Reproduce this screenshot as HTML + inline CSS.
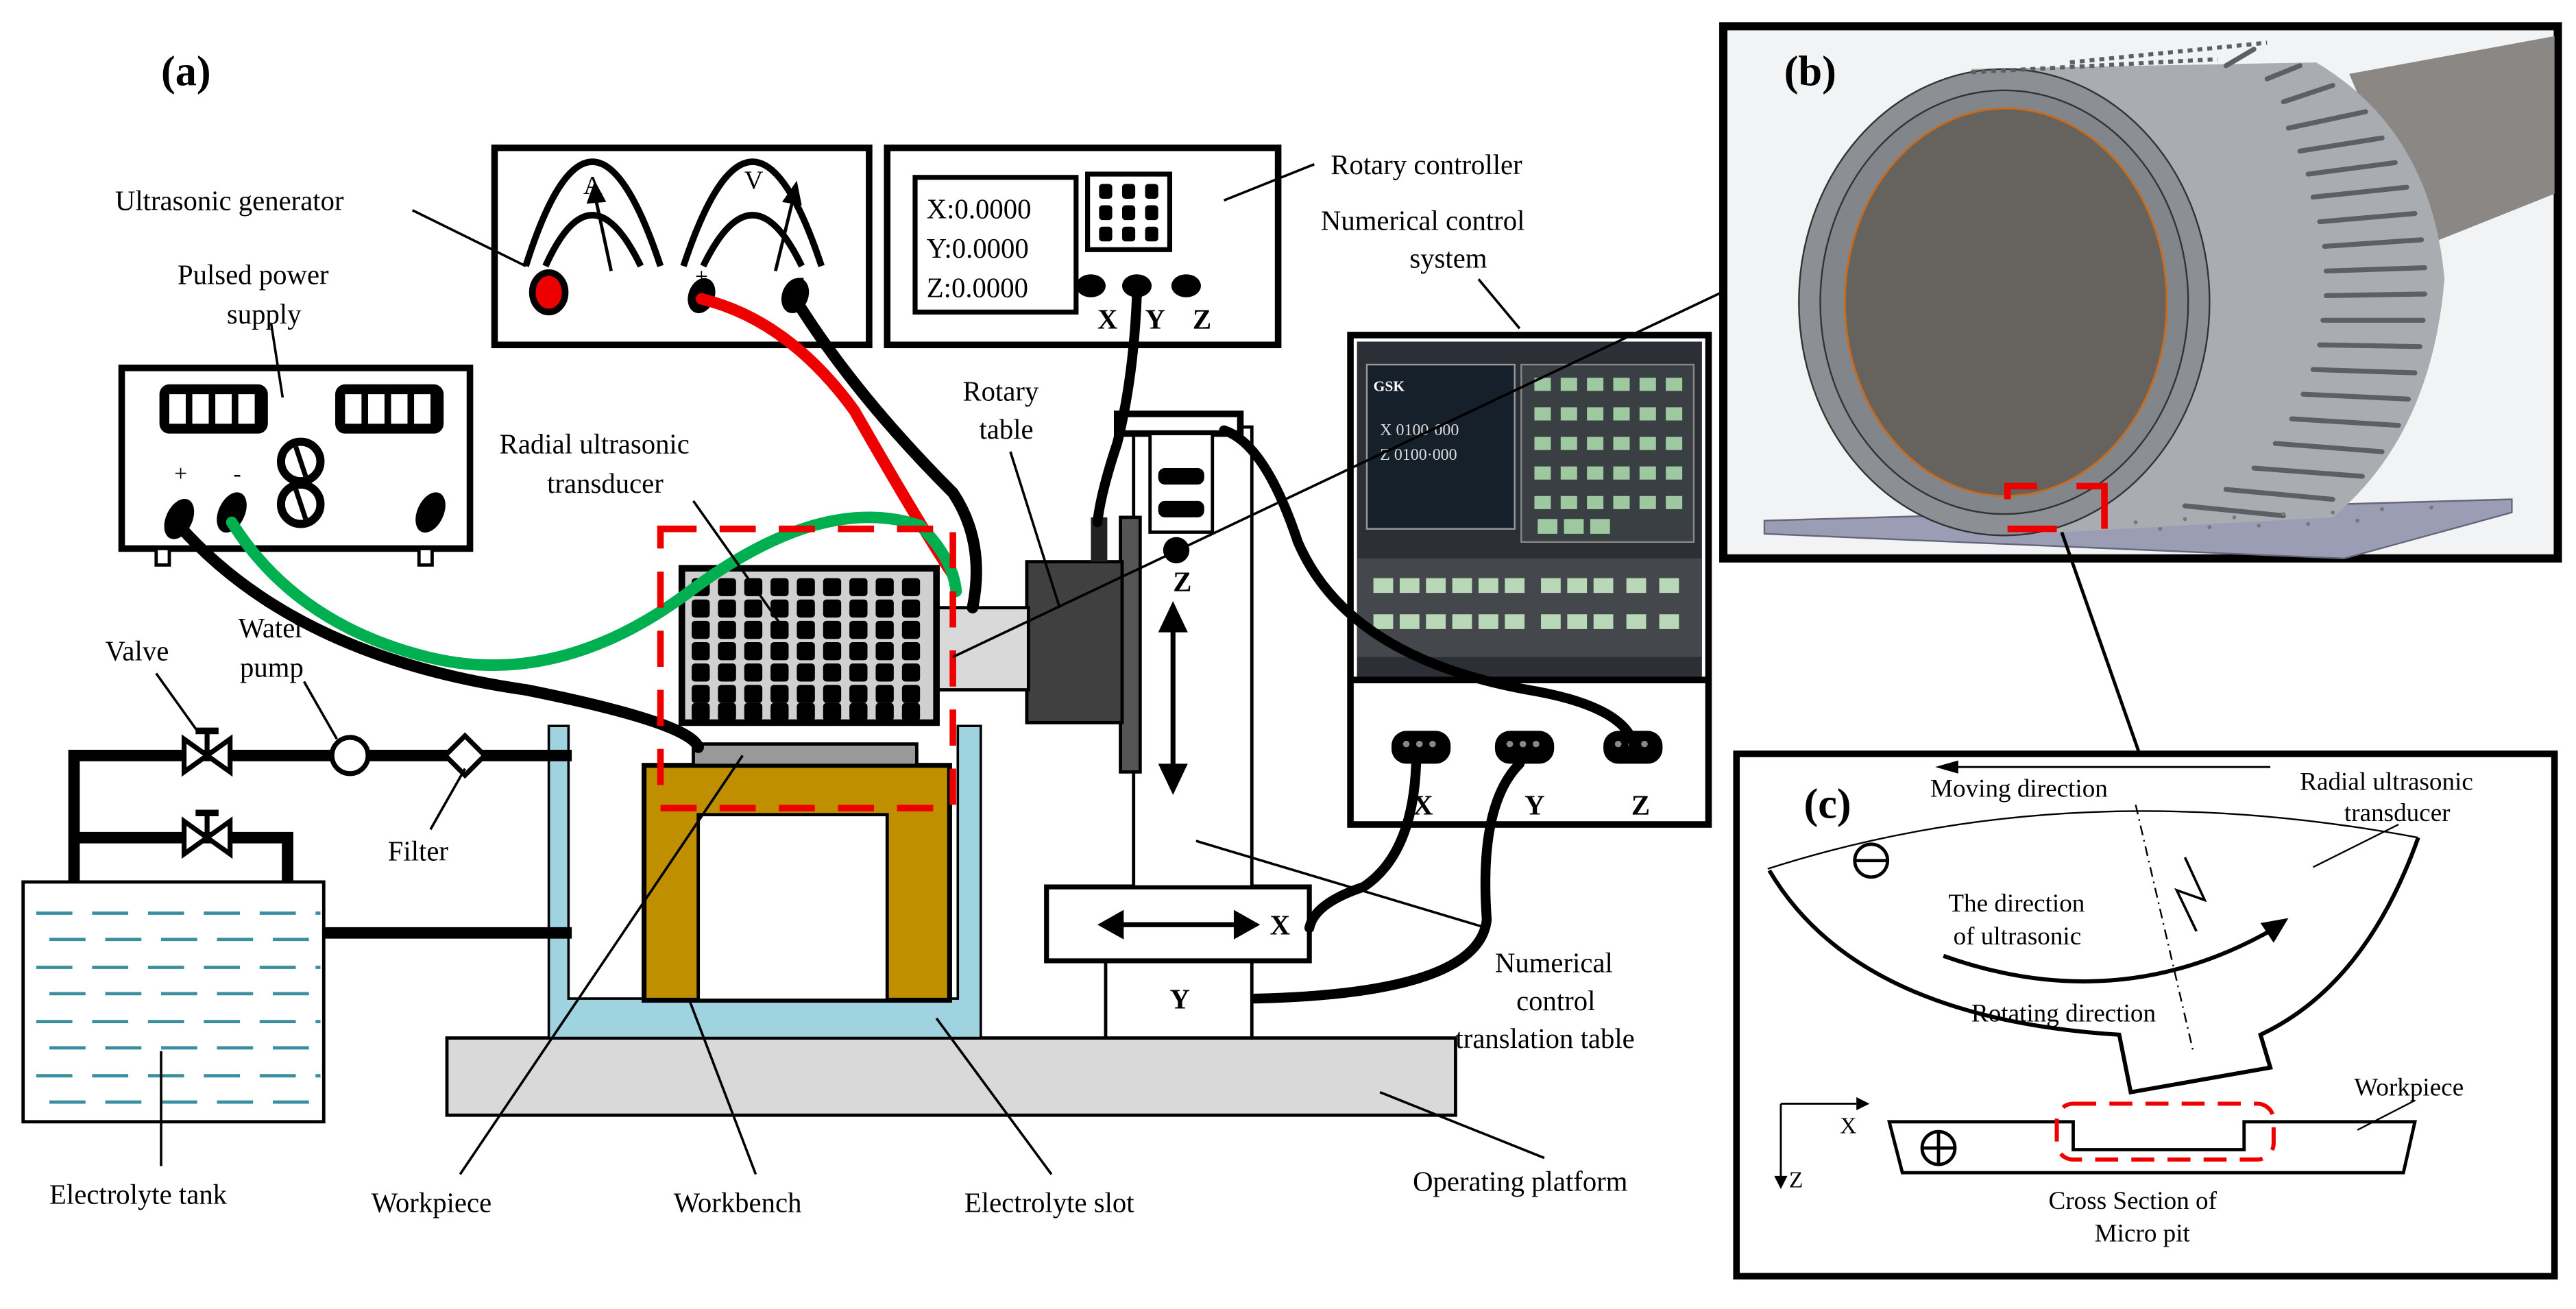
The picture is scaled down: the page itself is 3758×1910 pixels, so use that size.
<!DOCTYPE html>
<html><head><meta charset="utf-8"><style>
html,body{margin:0;padding:0;background:#fff;}
svg{display:block;}
svg text{font-family:"Liberation Serif","DejaVu Serif",serif !important;}
</style></head><body>
<svg width="3758" height="1910" viewBox="0 0 1568 797" xmlns="http://www.w3.org/2000/svg" style="font-family:'Liberation Serif','DejaVu Serif',serif">
<rect width="1568" height="797" fill="#fff"/>
<text x="98" y="52" font-size="26" font-weight="bold">(a)</text>

<!-- Ultrasonic generator -->
<rect x="301" y="90" width="228" height="120" fill="#fff" stroke="#000" stroke-width="4"/>
<path d="M320 162 Q360 35 402 162 M332 162 Q360 100 390 162" fill="none" stroke="#000" stroke-width="4"/>
<path d="M416 162 Q458 35 500 162 M428 162 Q458 100 488 162" fill="none" stroke="#000" stroke-width="4"/>
<line x1="372" y1="165" x2="363" y2="123" stroke="#000" stroke-width="2"/><path d="M357 124 L362 110 L369 123Z"/>
<line x1="472" y1="165" x2="482" y2="124" stroke="#000" stroke-width="2"/><path d="M476 123 L485 110 L488 125Z"/>
<text x="355" y="118" font-size="16">A</text><text x="453" y="115" font-size="16">V</text>
<text x="423" y="173" font-size="14">+</text><text x="485" y="173" font-size="14">-</text>
<ellipse cx="334" cy="178" rx="10" ry="12" fill="#e00" stroke="#000" stroke-width="4"/>
<ellipse cx="427" cy="180" rx="8" ry="11" fill="#000" transform="rotate(20 427 180)"/>
<ellipse cx="484" cy="180" rx="8" ry="11" fill="#000" transform="rotate(20 484 180)"/>
<text x="70" y="128" font-size="17">Ultrasonic generator</text>
<line x1="251" y1="128" x2="320" y2="162" stroke="#000" stroke-width="1.5"/>

<!-- Rotary controller -->
<rect x="540" y="90" width="238" height="120" fill="#fff" stroke="#000" stroke-width="4"/>
<rect x="557" y="108" width="98" height="82" fill="#fff" stroke="#000" stroke-width="3"/>
<text x="564" y="133" font-size="17">X:0.0000</text>
<text x="564" y="157" font-size="17">Y:0.0000</text>
<text x="564" y="181" font-size="17">Z:0.0000</text>
<rect x="662" y="106" width="50" height="46" fill="#fff" stroke="#000" stroke-width="3"/>
<g fill="#000"><rect x="669" y="112" width="8" height="9" rx="2"/><rect x="683" y="112" width="8" height="9" rx="2"/><rect x="697" y="112" width="8" height="9" rx="2"/>
<rect x="669" y="125" width="8" height="9" rx="2"/><rect x="683" y="125" width="8" height="9" rx="2"/><rect x="697" y="125" width="8" height="9" rx="2"/>
<rect x="669" y="138" width="8" height="9" rx="2"/><rect x="683" y="138" width="8" height="9" rx="2"/><rect x="697" y="138" width="8" height="9" rx="2"/>
<ellipse cx="664" cy="174" rx="9" ry="7"/><ellipse cx="692" cy="174" rx="9" ry="7"/><ellipse cx="722" cy="174" rx="9" ry="7"/></g>
<text x="668" y="200" font-size="17" font-weight="bold">X</text><text x="697" y="200" font-size="17" font-weight="bold">Y</text><text x="726" y="200" font-size="17" font-weight="bold">Z</text>
<text x="810" y="106" font-size="17">Rotary controller</text>
<line x1="800" y1="100" x2="745" y2="122" stroke="#000" stroke-width="1.5"/>

<!-- Pulsed power supply -->
<rect x="74" y="224" width="212" height="110" fill="#fff" stroke="#000" stroke-width="4"/>
<rect x="97" y="234" width="66" height="30" rx="6" fill="#000"/><rect x="204" y="234" width="66" height="30" rx="6" fill="#000"/>
<g fill="#fff"><rect x="103" y="240" width="10" height="18"/><rect x="117" y="240" width="10" height="18"/><rect x="131" y="240" width="10" height="18"/><rect x="145" y="240" width="10" height="18"/>
<rect x="210" y="240" width="10" height="18"/><rect x="224" y="240" width="10" height="18"/><rect x="238" y="240" width="10" height="18"/><rect x="252" y="240" width="10" height="18"/></g>
<circle cx="183" cy="281" r="12" fill="#fff" stroke="#000" stroke-width="5"/>
<circle cx="183" cy="307" r="12" fill="#fff" stroke="#000" stroke-width="5"/>
<line x1="180" y1="272" x2="186" y2="290" stroke="#000" stroke-width="3"/><line x1="180" y1="298" x2="186" y2="316" stroke="#000" stroke-width="3"/>
<ellipse cx="109" cy="316" rx="8" ry="13" fill="#000" transform="rotate(25 109 316)"/>
<ellipse cx="141" cy="312" rx="8" ry="13" fill="#000" transform="rotate(25 141 312)"/>
<ellipse cx="262" cy="312" rx="8" ry="13" fill="#000" transform="rotate(25 262 312)"/>
<text x="106" y="293" font-size="14">+</text><text x="142" y="293" font-size="14">-</text>
<rect x="95" y="334" width="8" height="10" fill="#fff" stroke="#000" stroke-width="2"/><rect x="255" y="334" width="8" height="10" fill="#fff" stroke="#000" stroke-width="2"/>
<text x="108" y="173" font-size="17">Pulsed power</text><text x="138" y="197" font-size="17">supply</text>
<line x1="165" y1="197" x2="172" y2="242" stroke="#000" stroke-width="1.5"/>

<!-- NC system -->
<rect x="822" y="204" width="218" height="298" fill="#fff" stroke="#000" stroke-width="4"/>
<rect x="826" y="208" width="210" height="205" fill="#2c3036"/>
<rect x="832" y="222" width="90" height="100" fill="#16202a" stroke="#999" stroke-width="1"/>
<rect x="926" y="222" width="105" height="108" fill="#3a3f44" stroke="#888" stroke-width="1"/>
<g fill="#9ec9a0"><rect x="934" y="230" width="10" height="8"/><rect x="950" y="230" width="10" height="8"/><rect x="966" y="230" width="10" height="8"/><rect x="982" y="230" width="10" height="8"/><rect x="998" y="230" width="10" height="8"/><rect x="1014" y="230" width="10" height="8"/>
<rect x="934" y="248" width="10" height="8"/><rect x="950" y="248" width="10" height="8"/><rect x="966" y="248" width="10" height="8"/><rect x="982" y="248" width="10" height="8"/><rect x="998" y="248" width="10" height="8"/><rect x="1014" y="248" width="10" height="8"/>
<rect x="934" y="266" width="10" height="8"/><rect x="950" y="266" width="10" height="8"/><rect x="966" y="266" width="10" height="8"/><rect x="982" y="266" width="10" height="8"/><rect x="998" y="266" width="10" height="8"/><rect x="1014" y="266" width="10" height="8"/>
<rect x="934" y="284" width="10" height="8"/><rect x="950" y="284" width="10" height="8"/><rect x="966" y="284" width="10" height="8"/><rect x="982" y="284" width="10" height="8"/><rect x="998" y="284" width="10" height="8"/><rect x="1014" y="284" width="10" height="8"/>
<rect x="934" y="302" width="10" height="8"/><rect x="950" y="302" width="10" height="8"/><rect x="966" y="302" width="10" height="8"/><rect x="982" y="302" width="10" height="8"/><rect x="998" y="302" width="10" height="8"/><rect x="1014" y="302" width="10" height="8"/>
<rect x="936" y="316" width="12" height="9"/><rect x="952" y="316" width="12" height="9"/><rect x="968" y="316" width="12" height="9"/></g>
<text x="836" y="238" font-size="9" fill="#fff" font-weight="bold">GSK</text>
<text x="840" y="265" font-size="10" fill="#ddd">X 0100·000</text>
<text x="840" y="280" font-size="10" fill="#ddd">Z 0100·000</text>
<rect x="826" y="340" width="210" height="60" fill="#44484c"/>
<g fill="#b9d8b8"><rect x="836" y="352" width="12" height="9"/><rect x="852" y="352" width="12" height="9"/><rect x="868" y="352" width="12" height="9"/><rect x="884" y="352" width="12" height="9"/><rect x="900" y="352" width="12" height="9"/><rect x="916" y="352" width="12" height="9"/><rect x="938" y="352" width="12" height="9"/><rect x="954" y="352" width="12" height="9"/><rect x="970" y="352" width="12" height="9"/><rect x="990" y="352" width="12" height="9"/><rect x="1010" y="352" width="12" height="9"/>
<rect x="836" y="374" width="12" height="9"/><rect x="852" y="374" width="12" height="9"/><rect x="868" y="374" width="12" height="9"/><rect x="884" y="374" width="12" height="9"/><rect x="900" y="374" width="12" height="9"/><rect x="916" y="374" width="12" height="9"/><rect x="938" y="374" width="12" height="9"/><rect x="954" y="374" width="12" height="9"/><rect x="970" y="374" width="12" height="9"/><rect x="990" y="374" width="12" height="9"/><rect x="1010" y="374" width="12" height="9"/></g>
<line x1="822" y1="414" x2="1040" y2="414" stroke="#000" stroke-width="4"/>
<g fill="#000"><rect x="847" y="445" width="36" height="20" rx="9"/><rect x="910" y="445" width="36" height="20" rx="9"/><rect x="976" y="445" width="36" height="20" rx="9"/></g>
<g fill="#888"><circle cx="856" cy="453" r="2"/><circle cx="864" cy="453" r="2"/><circle cx="872" cy="453" r="2"/><circle cx="919" cy="453" r="2"/><circle cx="927" cy="453" r="2"/><circle cx="935" cy="453" r="2"/><circle cx="985" cy="453" r="2"/><circle cx="993" cy="453" r="2"/><circle cx="1001" cy="453" r="2"/></g>
<text x="860" y="496" font-size="17" font-weight="bold">X</text><text x="928" y="496" font-size="17" font-weight="bold">Y</text><text x="993" y="496" font-size="17" font-weight="bold">Z</text>
<text x="804" y="140" font-size="17">Numerical control</text><text x="858" y="163" font-size="17">system</text>
<line x1="900" y1="170" x2="925" y2="200" stroke="#000" stroke-width="1.5"/>

<!-- platform & slot -->
<rect x="272" y="632" width="614" height="47" fill="#d9d9d9" stroke="#000" stroke-width="2"/>
<path d="M334 442 H346 V608 H583 V442 H597 V632 H334Z" fill="#9fd3e0" stroke="#000" stroke-width="1.5"/>
<rect x="392" y="466" width="186" height="143" fill="#bf8f00" stroke="#000" stroke-width="3"/>
<rect x="425" y="496" width="115" height="113" fill="#fff" stroke="#000" stroke-width="2"/>
<rect x="422" y="453" width="136" height="13" fill="#999" stroke="#000" stroke-width="2"/>

<!-- Tank -->
<rect x="14" y="537" width="183" height="146" fill="#fff" stroke="#000" stroke-width="2"/>
<g stroke="#3a8ea0" stroke-width="2" stroke-dasharray="22,12">
<line x1="22" y1="556" x2="195" y2="556"/><line x1="30" y1="572" x2="195" y2="572"/><line x1="22" y1="589" x2="195" y2="589"/><line x1="30" y1="605" x2="195" y2="605"/><line x1="22" y1="622" x2="195" y2="622"/><line x1="30" y1="638" x2="195" y2="638"/><line x1="22" y1="655" x2="195" y2="655"/><line x1="30" y1="671" x2="195" y2="671"/></g>
<text x="30" y="733" font-size="17">Electrolyte tank</text>
<line x1="98" y1="710" x2="98" y2="640" stroke="#000" stroke-width="1.5"/>

<!-- pipes -->
<g fill="none" stroke="#000" stroke-width="7">
<path d="M45 537 V460 H348"/><path d="M45 510 H175 V537"/><path d="M197 568 H348"/></g>
<g fill="#fff" stroke="#000" stroke-width="3">
<path d="M112 450 L140 470 V450 L112 470Z"/><path d="M112 500 L140 520 V500 L112 520Z"/>
<circle cx="213" cy="460" r="11"/><path d="M283 448 L295 460 L283 472 L271 460Z"/></g>
<line x1="126" y1="445" x2="126" y2="460" stroke="#000" stroke-width="3"/><line x1="119" y1="445" x2="133" y2="445" stroke="#000" stroke-width="4"/>
<line x1="126" y1="495" x2="126" y2="510" stroke="#000" stroke-width="3"/><line x1="119" y1="495" x2="133" y2="495" stroke="#000" stroke-width="4"/>
<text x="64" y="402" font-size="17">Valve</text><text x="145" y="388" font-size="17">Water</text><text x="146" y="412" font-size="17">pump</text>
<line x1="95" y1="410" x2="120" y2="445" stroke="#000" stroke-width="1.5"/>
<line x1="185" y1="415" x2="205" y2="450" stroke="#000" stroke-width="1.5"/>
<text x="236" y="524" font-size="17">Filter</text><line x1="262" y1="505" x2="283" y2="468" stroke="#000" stroke-width="1.5"/>

<!-- Column / stages -->
<rect x="673" y="585" width="89" height="47" fill="#fff" stroke="#000" stroke-width="2"/>
<text x="712" y="614" font-size="17" font-weight="bold">Y</text>
<rect x="637" y="540" width="160" height="45" fill="#fff" stroke="#000" stroke-width="3"/>
<line x1="675" y1="563" x2="760" y2="563" stroke="#000" stroke-width="3"/><path d="M668 563 L684 554 L684 572Z"/><path d="M767 563 L751 554 L751 572Z"/>
<text x="773" y="569" font-size="17" font-weight="bold">X</text>
<rect x="690" y="260" width="72" height="280" fill="#fff" stroke="#000" stroke-width="2"/>
<rect x="682" y="315" width="12" height="155" fill="#555" stroke="#000" stroke-width="2"/>
<rect x="680" y="252" width="75" height="12" fill="#fff" stroke="#000" stroke-width="4"/>
<rect x="700" y="264" width="38" height="60" fill="#fff" stroke="#000" stroke-width="2"/>
<rect x="705" y="285" width="28" height="10" rx="4" fill="#000"/><rect x="705" y="305" width="28" height="10" rx="4" fill="#000"/>
<ellipse cx="716" cy="335" rx="8" ry="8" fill="#000"/>
<text x="714" y="360" font-size="17" font-weight="bold">Z</text>
<line x1="714" y1="375" x2="714" y2="475" stroke="#000" stroke-width="3"/><path d="M705 385 L714 366 L723 385Z"/><path d="M705 465 L714 484 L723 465Z"/>
<rect x="625" y="342" width="58" height="98" fill="#404040" stroke="#000" stroke-width="2"/>
<rect x="570" y="370" width="56" height="50" fill="#d9d9d9" stroke="#000" stroke-width="2"/>
<rect x="664" y="315" width="10" height="27" fill="#222"/>

<!-- transducer -->
<rect x="415" y="346" width="155" height="94" fill="#d0d0d0" stroke="#000" stroke-width="4"/>
<g fill="#000">
<g id="r"><rect x="421" y="352" width="11" height="11" rx="2"/><rect x="437" y="352" width="11" height="11" rx="2"/><rect x="453" y="352" width="11" height="11" rx="2"/><rect x="469" y="352" width="11" height="11" rx="2"/><rect x="485" y="352" width="11" height="11" rx="2"/><rect x="501" y="352" width="11" height="11" rx="2"/><rect x="517" y="352" width="11" height="11" rx="2"/><rect x="533" y="352" width="11" height="11" rx="2"/><rect x="549" y="352" width="11" height="11" rx="2"/></g>
<use href="#r" y="13"/><use href="#r" y="26"/><use href="#r" y="39"/><use href="#r" y="52"/><use href="#r" y="65"/><use href="#r" y="76"/></g>

<!-- cables -->
<g fill="none" stroke-linecap="round">
<path d="M427 182 Q480 195 520 250 Q560 320 580 350" stroke="#e00" stroke-width="7"/>
<path d="M484 182 Q520 240 580 300 Q600 330 592 370" stroke="#000" stroke-width="7"/>
<path d="M141 318 Q180 380 260 400 Q340 420 420 360 Q500 300 560 320 Q580 340 582 360" stroke="#00b050" stroke-width="7"/>
<path d="M109 320 Q180 400 320 420 Q420 440 425 455" stroke="#000" stroke-width="7"/>
<path d="M692 180 Q690 230 680 270 Q670 300 668 318" stroke="#000" stroke-width="6"/>
<path d="M745 262 Q770 270 790 330 Q820 400 930 420 Q990 430 995 455" stroke="#000" stroke-width="6"/>
<path d="M862 465 Q860 520 830 540 Q800 550 797 565" stroke="#000" stroke-width="6"/>
<path d="M925 465 Q900 490 905 560 Q900 605 764 608" stroke="#000" stroke-width="6"/>
</g>

<!-- red dashed box -->
<rect x="402" y="322" width="178" height="170" fill="none" stroke="#e00" stroke-width="4" stroke-dasharray="22,14"/>

<!-- labels -->
<text x="304" y="276" font-size="17">Radial ultrasonic</text><text x="333" y="300" font-size="17">transducer</text>
<line x1="422" y1="305" x2="475" y2="380" stroke="#000" stroke-width="1.5"/>
<text x="586" y="244" font-size="17">Rotary</text><text x="596" y="267" font-size="17">table</text>
<line x1="615" y1="275" x2="645" y2="370" stroke="#000" stroke-width="1.5"/>
<line x1="580" y1="400" x2="1048" y2="178" stroke="#000" stroke-width="1.5"/>
<text x="226" y="738" font-size="17">Workpiece</text><line x1="280" y1="715" x2="452" y2="460" stroke="#000" stroke-width="1.5"/>
<text x="410" y="738" font-size="17">Workbench</text><line x1="460" y1="715" x2="420" y2="610" stroke="#000" stroke-width="1.5"/>
<text x="587" y="738" font-size="17">Electrolyte slot</text><line x1="640" y1="715" x2="570" y2="620" stroke="#000" stroke-width="1.5"/>
<text x="860" y="725" font-size="17">Operating platform</text><line x1="940" y1="705" x2="840" y2="665" stroke="#000" stroke-width="1.5"/>
<text x="910" y="592" font-size="17">Numerical</text><text x="923" y="615" font-size="17">control</text><text x="886" y="638" font-size="17">translation table</text>
<line x1="905" y1="565" x2="728" y2="512" stroke="#000" stroke-width="1.5"/>

<!-- Panel b -->
<rect x="1049" y="16" width="508" height="324" fill="#f2f3f5" stroke="#000" stroke-width="5"/>
<path d="M1430 45 L1555 22 L1555 118 L1475 150Z" fill="#8a8784"/>
<polygon points="1074,317 1529,304 1529,312 1427,340 1074,325" fill="#9a9db4" stroke="#66667a" stroke-width="1"/>
<path d="M1200 42 L1410 38 Q1480 80 1488 170 Q1480 265 1420 315 L1220 326Z" fill="#a9adb1"/>
<ellipse cx="1220" cy="184" rx="125" ry="142" fill="#8c9094" stroke="#333" stroke-width="1"/>
<ellipse cx="1220" cy="184" rx="112" ry="129" fill="#82868a" stroke="#333" stroke-width="1"/>
<ellipse cx="1221" cy="184" rx="98" ry="118" fill="#66625e" stroke="#c96a1c" stroke-width="1.2"/>
<g stroke="#5c6064" stroke-width="3" stroke-linecap="round">
<line x1="1355" y1="40" x2="1372" y2="30"/><line x1="1380" y1="48" x2="1400" y2="40"/><line x1="1390" y1="62" x2="1420" y2="52"/>
<line x1="1393" y1="78" x2="1440" y2="68"/><line x1="1400" y1="92" x2="1450" y2="84"/><line x1="1405" y1="106" x2="1458" y2="99"/><line x1="1408" y1="120" x2="1465" y2="114"/><line x1="1412" y1="135" x2="1470" y2="130"/><line x1="1415" y1="150" x2="1474" y2="146"/><line x1="1416" y1="165" x2="1476" y2="163"/><line x1="1416" y1="180" x2="1476" y2="179"/><line x1="1414" y1="195" x2="1475" y2="195"/><line x1="1412" y1="210" x2="1473" y2="211"/><line x1="1408" y1="225" x2="1470" y2="227"/><line x1="1402" y1="240" x2="1466" y2="243"/><line x1="1395" y1="255" x2="1460" y2="259"/><line x1="1385" y1="270" x2="1450" y2="275"/><line x1="1372" y1="285" x2="1438" y2="290"/><line x1="1355" y1="298" x2="1420" y2="304"/><line x1="1330" y1="308" x2="1390" y2="314"/>
</g>
<g stroke="#5c6064" stroke-width="2.5" stroke-dasharray="3,3"><line x1="1200" y1="44" x2="1350" y2="36"/><line x1="1260" y1="38" x2="1380" y2="26"/></g>
<g fill="#777"><circle cx="1300" cy="318" r="1.2"/><circle cx="1330" cy="316" r="1.2"/><circle cx="1360" cy="315" r="1.2"/><circle cx="1390" cy="313" r="1.2"/><circle cx="1420" cy="312" r="1.2"/><circle cx="1450" cy="310" r="1.2"/><circle cx="1480" cy="309" r="1.2"/><circle cx="1315" cy="322" r="1.2"/><circle cx="1345" cy="321" r="1.2"/><circle cx="1375" cy="320" r="1.2"/><circle cx="1405" cy="319" r="1.2"/><circle cx="1435" cy="317" r="1.2"/></g>
<g stroke="#e00" stroke-width="4" fill="none"><path d="M1222 304 V296 H1240"/><path d="M1264 296 H1281 V322"/><line x1="1222" y1="322" x2="1252" y2="322"/></g>
<text x="1086" y="52" font-size="26" font-weight="bold">(b)</text>
<line x1="1255" y1="324" x2="1302" y2="458" stroke="#000" stroke-width="2"/>

<!-- Panel c -->
<rect x="1057" y="459" width="498" height="318" fill="#fff" stroke="#000" stroke-width="4"/>
<text x="1098" y="498" font-size="26" font-weight="bold">(c)</text>
<text x="1175" y="485" font-size="15.5">Moving direction</text>
<line x1="1190" y1="467" x2="1382" y2="467" stroke="#000" stroke-width="1.2"/><path d="M1178 467 L1192 463 L1192 471Z"/>
<text x="1400" y="481" font-size="15.5">Radial ultrasonic</text><text x="1427" y="500" font-size="15.5">transducer</text>
<line x1="1460" y1="502" x2="1408" y2="528" stroke="#000" stroke-width="1"/>
<path d="M1076 529 Q1260 470 1472 510" fill="none" stroke="#000" stroke-width="1"/>
<path d="M1077 530 Q1130 620 1290 630 L1297 665 L1382 650 L1376 630 Q1440 600 1472 510" fill="none" stroke="#000" stroke-width="2.5"/>
<path d="M1183 582 Q1290 620 1385 565" fill="none" stroke="#000" stroke-width="2.5"/><path d="M1393 559 L1376 562 L1384 574Z"/>
<circle cx="1139" cy="524" r="10" fill="none" stroke="#000" stroke-width="2"/><line x1="1129" y1="524" x2="1149" y2="524" stroke="#000" stroke-width="2"/>
<text x="1186" y="555" font-size="15.5">The direction</text><text x="1189" y="575" font-size="15.5">of ultrasonic</text>
<path d="M1330 522 L1342 548 L1325 542 L1337 567" fill="none" stroke="#000" stroke-width="1.5"/>
<line x1="1300" y1="490" x2="1335" y2="640" stroke="#000" stroke-width="1" stroke-dasharray="6,3,1,3"/>
<text x="1200" y="622" font-size="15.5">Rotating direction</text>
<text x="1433" y="667" font-size="15.5">Workpiece</text>
<line x1="1470" y1="670" x2="1435" y2="688" stroke="#000" stroke-width="1"/>
<path d="M1150 683 H1262 V700 H1366 V683 H1470 L1463 714 H1158Z" fill="none" stroke="#000" stroke-width="2"/>
<circle cx="1180" cy="699" r="10" fill="none" stroke="#000" stroke-width="2"/><line x1="1170" y1="699" x2="1190" y2="699" stroke="#000" stroke-width="2"/><line x1="1180" y1="689" x2="1180" y2="709" stroke="#000" stroke-width="2"/>
<rect x="1252" y="672" width="132" height="34" rx="10" fill="none" stroke="#e00" stroke-width="2.5" stroke-dasharray="14,8"/>
<line x1="1084" y1="672" x2="1084" y2="718" stroke="#000" stroke-width="1.2"/><path d="M1080 716 L1084 724 L1088 716Z"/>
<line x1="1084" y1="672" x2="1130" y2="672" stroke="#000" stroke-width="1.2"/><path d="M1130 668 L1138 672 L1130 676Z"/>
<text x="1120" y="690" font-size="14">X</text><text x="1089" y="723" font-size="14">Z</text>
<text x="1247" y="736" font-size="15.5">Cross Section of</text><text x="1275" y="756" font-size="15.5">Micro pit</text>
</svg>
</body></html>
